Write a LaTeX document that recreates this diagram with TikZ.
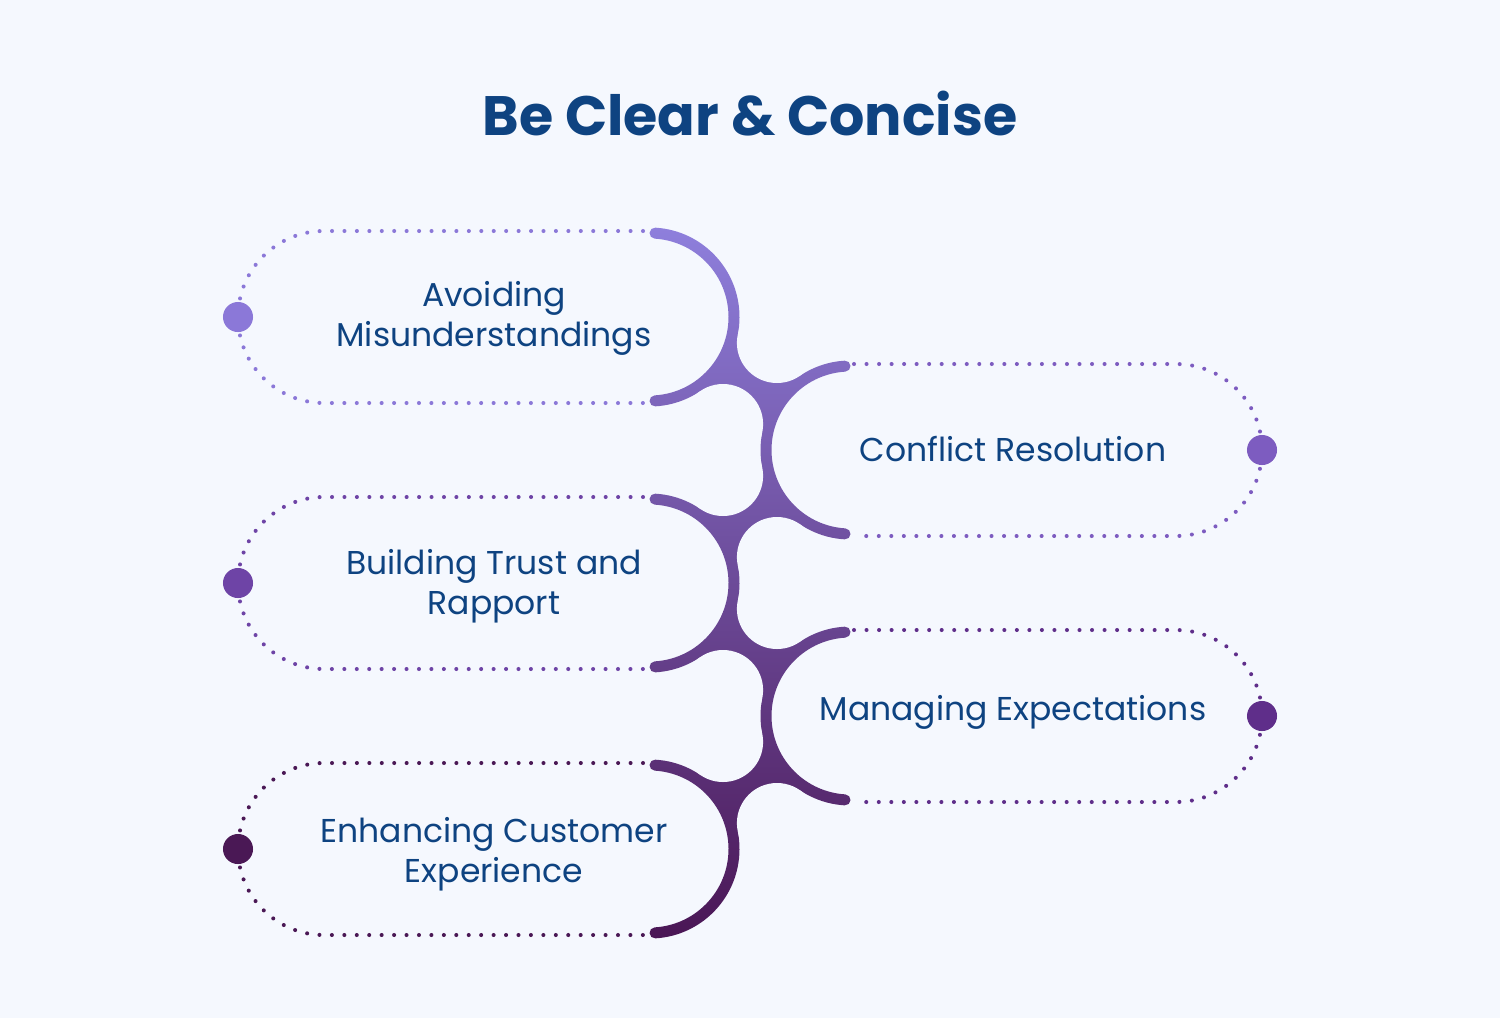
\documentclass[tikz,border=0pt]{standalone}
\usepackage{fontspec}
\setmainfont{Poppins}
\definecolor{bgc}{HTML}{F5F8FE}
\definecolor{txtc}{HTML}{0E4381}
\definecolor{ctop}{HTML}{8E7FDC}
\definecolor{cmid}{HTML}{6F46A6}
\definecolor{cbot}{HTML}{4A1655}
\definecolor{pA}{HTML}{8B78D8}
\definecolor{pB}{HTML}{7D5CC0}
\definecolor{pC}{HTML}{6E44A6}
\definecolor{pD}{HTML}{5F2E8A}
\definecolor{pE}{HTML}{4A1855}
\begin{document}
\begin{tikzpicture}[x=0.02cm,y=-0.02cm,
  ldots/.style={line width=2.3pt,line cap=round,dash pattern=on 0pt off 7.08pt},
  rdots/.style={line width=2.3pt,line cap=round,dash pattern=on 0pt off 7.13pt},
  bigdot/.style={circle,inner sep=0pt,minimum size=17.1pt},
  itemtext/.style={text=txtc,align=center,font=\fontsize{18.8pt}{22.8pt}\selectfont},
  hole/.style={fill=bgc}]
\fill[bgc] (0,0) rectangle (1500,1018);
\useasboundingbox (0,0) rectangle (1500,1018);

\node[anchor=base,text=txtc,font=\fontsize{31.6pt}{38pt}\selectfont\bfseries] (title) at (750,135) {Be Clear \& Concise};

% dotted outlines
\coordinate (a1t) at (643,231); \coordinate (a1b) at (643,403);
\coordinate (a3t) at (643,497); \coordinate (a3b) at (643,669);
\coordinate (a5t) at (643,763); \coordinate (a5b) at (643,935);
\coordinate (a2t) at (854,364); \coordinate (a2b) at (854,536);
\coordinate (a4t) at (854,630); \coordinate (a4b) at (854,802);
\draw[ldots,pA] (a1t) -- (324,231) arc[start angle=-90,end angle=-270,radius=86] -- (a1b);
\draw[ldots,pC] (a3t) -- (324,497) arc[start angle=-90,end angle=-270,radius=86] -- (a3b);
\draw[ldots,pE] (a5t) -- (324,763) arc[start angle=-90,end angle=-270,radius=86] -- (a5b);
\draw[rdots,pB] (a2t) -- (1176,364) arc[start angle=-90,end angle=90,radius=86] -- (a2b);
\draw[rdots,pD] (a4t) -- (1176,630) arc[start angle=-90,end angle=90,radius=86] -- (a4b);

\node[bigdot,fill=pA] (d1) at (238,317) {};
\node[bigdot,fill=pB] (d2) at (1262,450) {};
\node[bigdot,fill=pC] (d3) at (238,583) {};
\node[bigdot,fill=pD] (d4) at (1262,716) {};
\node[bigdot,fill=pE] (d5) at (238,849) {};

% the spine: thick arcs joined by necks, one shading
\begin{scope}
\clip
 (650,317) ++(-86.59:89.5) arc[start angle=-86.59,end angle=86.59,radius=89.5] arc[start angle=86.59,end angle=266.59,radius=5.5] arc[start angle=86.59,end angle=-86.59,radius=78.5] arc[start angle=93.41,end angle=273.41,radius=5.5] -- cycle
 (650,583) ++(-86.59:89.5) arc[start angle=-86.59,end angle=86.59,radius=89.5] arc[start angle=86.59,end angle=266.59,radius=5.5] arc[start angle=86.59,end angle=-86.59,radius=78.5] arc[start angle=93.41,end angle=273.41,radius=5.5] -- cycle
 (650,849) ++(-86.59:89.5) arc[start angle=-86.59,end angle=86.59,radius=89.5] arc[start angle=86.59,end angle=266.59,radius=5.5] arc[start angle=86.59,end angle=-86.59,radius=78.5] arc[start angle=93.41,end angle=273.41,radius=5.5] -- cycle
 (850,450) ++(93.41:89.5) arc[start angle=93.41,end angle=266.59,radius=89.5] arc[start angle=266.59,end angle=446.59,radius=5.5] arc[start angle=266.59,end angle=93.41,radius=78.5] arc[start angle=273.41,end angle=453.41,radius=5.5] -- cycle
 (850,716) ++(93.41:89.5) arc[start angle=93.41,end angle=266.59,radius=89.5] arc[start angle=266.59,end angle=446.59,radius=5.5] arc[start angle=266.59,end angle=93.41,radius=78.5] arc[start angle=273.41,end angle=453.41,radius=5.5] -- cycle
 (737.7,334.9) -- (799.6,376) -- (762.3,432.1) -- (700.4,391) -- cycle
 (737.7,600.9) -- (799.6,642) -- (762.3,698.1) -- (700.4,657) -- cycle
 (799.6,524) -- (737.7,565.1) -- (700.4,509) -- (762.3,467.9) -- cycle
 (799.6,790) -- (737.7,831.1) -- (700.4,775) -- (762.3,733.9) -- cycle;
\shade[top color=ctop,middle color=cmid,bottom color=cbot] (630,227) rectangle (870,939);
\end{scope}
\fill[hole] (777,342.9) circle[radius=40.1] (723,424.1) circle[radius=40.1]
  (723,475.9) circle[radius=40.1] (777,557.1) circle[radius=40.1]
  (777,608.9) circle[radius=40.1] (723,690.1) circle[radius=40.1]
  (723,741.9) circle[radius=40.1] (777,823.1) circle[radius=40.1];

\node[itemtext] (t1) at (494,318) {Avoiding\\Misunderstandings};
\node[itemtext] (t2) at (1013,449) {Conflict Resolution};
\node[itemtext] (t3) at (494,586) {Building Trust and\\Rapport};
\node[itemtext] (t4) at (1013,712) {Managing Expectations};
\node[itemtext] (t5) at (494,854) {Enhancing Customer\\Experience};
\end{tikzpicture}
\end{document}
